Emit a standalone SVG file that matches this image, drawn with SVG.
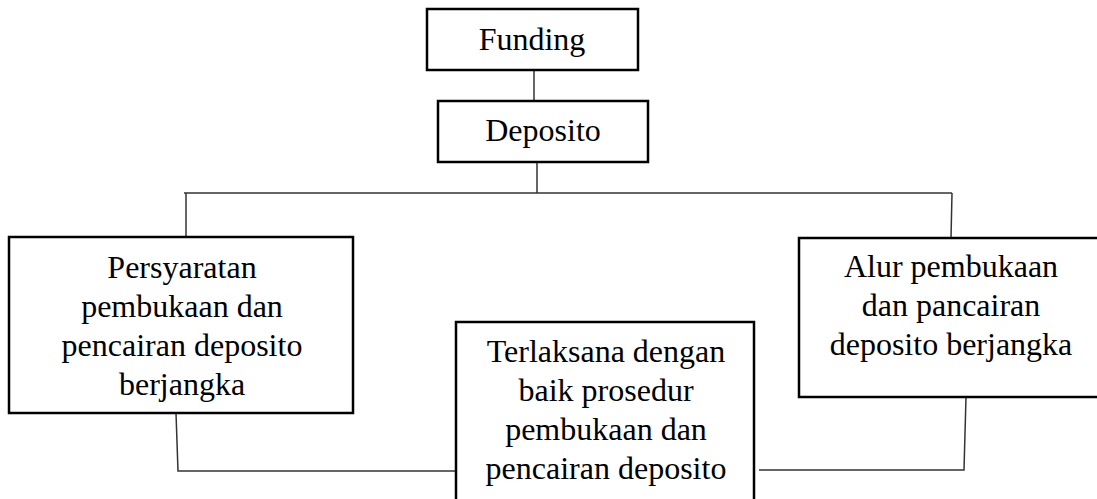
<svg xmlns="http://www.w3.org/2000/svg" width="1097" height="499" viewBox="0 0 1097 499">
<style>
.box{fill:#fff;stroke:#000;stroke-width:2.5}
.lbl{font-family:"Liberation Serif","Times New Roman",serif;font-size:32px;fill:#000;text-anchor:middle}
.con{fill:none;stroke:#333;stroke-width:1.5}
</style>
<rect width="1097" height="499" fill="#fff"/>
<g id="connectors">
<path class="con" d="M534 70 V101"/>
<path class="con" d="M537 162 V193"/>
<path class="con" d="M184 193 H952"/>
<path class="con" d="M186 193 V237"/>
<path class="con" d="M952 193 L951 238"/>
<path class="con" d="M176 413 L178 471 H456"/>
<path class="con" d="M759 470 H964 L966 397"/>
</g>
<g id="funding">
<rect class="box" x="427" y="9" width="211" height="61"/>
<text class="lbl" x="532" y="50">Funding</text>
</g>
<g id="deposito">
<rect class="box" x="438" y="101" width="210" height="61"/>
<text class="lbl" x="543" y="141">Deposito</text>
</g>
<g id="persyaratan">
<rect class="box" x="9" y="237" width="344" height="176"/>
<text class="lbl" x="182" y="278">Persyaratan</text>
<text class="lbl" x="182" y="317">pembukaan dan</text>
<text class="lbl" x="182" y="356">pencairan deposito</text>
<text class="lbl" x="182" y="395">berjangka</text>
</g>
<g id="terlaksana">
<rect class="box" x="456" y="322" width="298" height="200"/>
<text class="lbl" x="606" y="362">Terlaksana dengan</text>
<text class="lbl" x="606" y="401">baik prosedur</text>
<text class="lbl" x="606" y="440">pembukaan dan</text>
<text class="lbl" x="606" y="479">pencairan deposito</text>
</g>
<g id="alur">
<rect class="box" x="799" y="238" width="310" height="159"/>
<text class="lbl" x="951" y="277">Alur pembukaan</text>
<text class="lbl" x="951" y="316">dan pancairan</text>
<text class="lbl" x="951" y="355">deposito berjangka</text>
</g>
</svg>
